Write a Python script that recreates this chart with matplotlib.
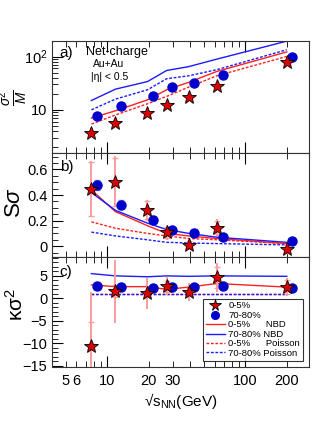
import matplotlib
matplotlib.use("Agg")
import matplotlib.pyplot as plt
import numpy as np
from matplotlib.ticker import FixedLocator, NullFormatter, FixedFormatter, MultipleLocator
from matplotlib.lines import Line2D

plt.rcParams["font.family"] = ["Liberation Sans", "DejaVu Sans"]
plt.rcParams["mathtext.fontset"] = "custom"
plt.rcParams["mathtext.rm"] = "Liberation Sans"
plt.rcParams["mathtext.it"] = "Liberation Sans:italic"

# beam energies (GeV)
energy = np.array([7.7, 11.5, 19.6, 27, 39, 62.4, 200])
energy_blue = energy * 1.1  # 70-80% points drawn slightly shifted

# panel a: sigma^2 / M
a_central = [3.7, 5.7, 8.8, 12.4, 17.4, 27.5, 79]
a_periph = [7.5, 11.9, 17.9, 26.8, 32, 45.8, 98]
a_nbd_central = [7.0, 9.6, 15.4, 23.8, 33, 52.8, 123]
a_nbd_periph = [15, 24.5, 34, 55, 65, 90, 196]
a_poi_central = [5.4, 8.0, 13, 17.9, 26.8, 43.7, 101]
a_poi_periph = [10, 15.9, 23.8, 38.5, 43.7, 57, 135]

# panel b: S sigma
b_central = [0.446, 0.503, 0.28, 0.107, 0.013, 0.146, -0.023]
b_central_err = [0.22, 0.2, 0.08, 0.06, 0.04, 0.07, 0.04]
b_central_sys = [0.21, 0.19, 0.07, 0.04, 0.03, 0.05, 0.03]
b_periph = [0.477, 0.326, 0.203, 0.125, 0.104, 0.073, 0.039]
b_periph_sys = [0.02, 0.015, 0.01, 0.008, 0.008, 0.006, 0.004]
b_nbd_central = [0.44, 0.27, 0.16, 0.10, 0.08, 0.06, 0.02]
b_nbd_periph = [0.42, 0.28, 0.18, 0.13, 0.10, 0.07, 0.03]
b_poi_central = [0.19, 0.14, 0.10, 0.08, 0.06, 0.05, 0.02]
b_poi_periph = [0.11, 0.08, 0.05, 0.03, 0.025, 0.02, 0.01]

# panel c: kappa sigma^2
c_central = [-10.6, 1.6, 1.1, 2.7, 1.5, 4.7, 2.5]
c_central_err = [12, 7, 3.4, 2, 2, 3.2, 2]
c_central_sys = [5.3, 1.3, 0.8, 1.2, 0.8, 2.3, 1.5]
c_periph = [2.8, 2.6, 2.3, 2.6, 2.6, 2.7, 2.2]
c_nbd_central = [3.0, 2.6, 2.6, 2.0, 2.5, 3.3, 2.5]
c_nbd_periph = [5.5, 5.0, 4.8, 5.0, 4.9, 5.0, 4.9]
c_poi_central = [1.0] * 7
c_poi_periph = [1.0] * 7

red = "#ff2020"
blue = "#1a1aff"
pink = "#ff9c9c"

fig = plt.figure(figsize=(3.16, 4.47), dpi=100)
left, width = 0.165, 0.813
ax_a = fig.add_axes([left, 0.658, width, 0.251])
ax_b = fig.add_axes([left, 0.425, width, 0.233])
ax_c = fig.add_axes([left, 0.179, width, 0.246])

star_kw = dict(marker="*", ms=10, mfc="#dd0000", mec="black", mew=0.6, ls="none", zorder=5)
circ_kw = dict(marker="o", ms=6.5, mfc="#0000cc", mec="#0000cc", ls="none", zorder=5)


def curves(ax, nc, npe, pc, pp):
    ax.plot(energy, nc, color=red, lw=1.0)
    ax.plot(energy, npe, color=blue, lw=1.0)
    ax.plot(energy, pc, color=red, lw=1.0, ls=(0, (2, 1.2)))
    ax.plot(energy, pp, color=blue, lw=1.0, ls=(0, (2, 1.2)))


# panel a
curves(ax_a, a_nbd_central, a_nbd_periph, a_poi_central, a_poi_periph)
ax_a.plot(energy_blue, a_periph, **circ_kw)
ax_a.plot(energy, a_central, **star_kw)
ax_a.set_yscale("log")
ax_a.set_ylim(1.55, 200)
ax_a.set_yticks([10, 100])
ax_a.set_yticklabels(["10", "10$^2$"])
ax_a.set_ylabel(r"$\frac{\sigma^2}{M}$", fontsize=14)
ax_a.yaxis.set_label_coords(-0.085, 0.49)
ax_a.text(0.03, 0.95, "a)", transform=ax_a.transAxes, fontsize=11, va="top")
ax_a.text(0.13, 0.95, "Net-charge", transform=ax_a.transAxes, fontsize=9, va="top")
ax_a.text(0.16, 0.84, "Au+Au", transform=ax_a.transAxes, fontsize=7.5, va="top")
ax_a.text(0.15, 0.72, "|η| < 0.5", transform=ax_a.transAxes, fontsize=7.5, va="top")

# panel b
curves(ax_b, b_nbd_central, b_nbd_periph, b_poi_central, b_poi_periph)
ax_b.errorbar(energy, b_central, yerr=b_central_err, fmt="none", ecolor=pink, elinewidth=1.4, zorder=3)
ax_b.errorbar(energy, b_central, yerr=b_central_sys, fmt="none", ecolor=pink, elinewidth=0,
              capsize=2.5, capthick=1.0, zorder=3)
ax_b.errorbar(energy_blue, b_periph, yerr=np.array(b_periph_sys) + 0.02, fmt="none", ecolor="#9090ff",
              elinewidth=0, capsize=2.5, capthick=1.0, zorder=3)
ax_b.plot(energy_blue, b_periph, **circ_kw)
ax_b.plot(energy, b_central, **star_kw)
ax_b.set_ylim(-0.085, 0.73)
ax_b.yaxis.set_major_locator(FixedLocator([0, 0.2, 0.4, 0.6]))
ax_b.set_yticklabels(["0", "0.2", "0.4", "0.6"])
ax_b.yaxis.set_minor_locator(MultipleLocator(0.05))
ax_b.set_ylabel("S$\\sigma$", fontsize=16)
ax_b.yaxis.set_label_coords(-0.105, 0.52)
ax_b.text(0.03, 0.93, "b)", transform=ax_b.transAxes, fontsize=11, va="top")

# panel c
curves(ax_c, c_nbd_central, c_nbd_periph, c_poi_central, c_poi_periph)
ax_c.errorbar(energy, c_central, yerr=c_central_err, fmt="none", ecolor=pink, elinewidth=1.4, zorder=3)
ax_c.errorbar(energy, c_central, yerr=c_central_sys, fmt="none", ecolor=pink, elinewidth=0,
              capsize=2.5, capthick=1.0, zorder=3)
ax_c.plot(energy_blue, c_periph, **circ_kw)
ax_c.plot(energy, c_central, **star_kw)
ax_c.set_ylim(-15.3, 9.2)
ax_c.yaxis.set_major_locator(FixedLocator([-15, -10, -5, 0, 5]))
ax_c.yaxis.set_minor_locator(MultipleLocator(1))
ax_c.set_ylabel("κσ$^2$", fontsize=15)
ax_c.yaxis.set_label_coords(-0.10, 0.57)
ax_c.text(0.03, 0.93, "c)", transform=ax_c.transAxes, fontsize=11, va="top")
ax_c.set_xlabel("√s$_{\\rm NN}$(GeV)", fontsize=11, labelpad=2)

handles = [
    Line2D([], [], **star_kw),
    Line2D([], [], **circ_kw),
    Line2D([], [], color=red, lw=1.0),
    Line2D([], [], color=blue, lw=1.0),
    Line2D([], [], color=red, lw=1.0, ls=(0, (2, 1.2))),
    Line2D([], [], color=blue, lw=1.0, ls=(0, (2, 1.2))),
]
labels = ["0-5%", "70-80%", "0-5%      NBD", "70-80% NBD", "0-5%      Poisson", "70-80% Poisson"]
leg = ax_c.legend(handles, labels, loc="lower right", bbox_to_anchor=(0.995, 0.015), fontsize=6.8,
                  frameon=True, fancybox=False, edgecolor="black", handlelength=2.0,
                  handletextpad=0.4, labelspacing=0.05, borderpad=0.3, markerscale=0.85)
leg.get_frame().set_linewidth(0.8)

for ax in (ax_a, ax_b, ax_c):
    ax.set_xscale("log")
    ax.set_xlim(4.0, 290)
    ax.xaxis.set_major_locator(FixedLocator([10, 100]))
    ax.xaxis.set_minor_locator(FixedLocator([5, 6, 7, 8, 9, 20, 30, 40, 50, 60, 70, 80, 90, 200]))
    ax.xaxis.set_major_formatter(NullFormatter())
    ax.xaxis.set_minor_formatter(NullFormatter())
    ax.tick_params(which="both", direction="in", top=True, right=False, labelsize=10.5)
    ax.tick_params(which="major", length=8, width=0.8)
    ax.tick_params(which="minor", length=4, width=0.6)
    for s in ax.spines.values():
        s.set_linewidth(0.8)
        s.set_color("#333333")

ax_c.xaxis.set_major_formatter(FixedFormatter(["10", "100"]))
ax_c.xaxis.set_minor_formatter(FixedFormatter(["5", "6", "", "", "", "20", "30", "", "", "", "", "", "", "200"]))
ax_c.tick_params(axis="x", which="both", labelsize=10.5, pad=5)

fig.savefig("out.png", dpi=100)
